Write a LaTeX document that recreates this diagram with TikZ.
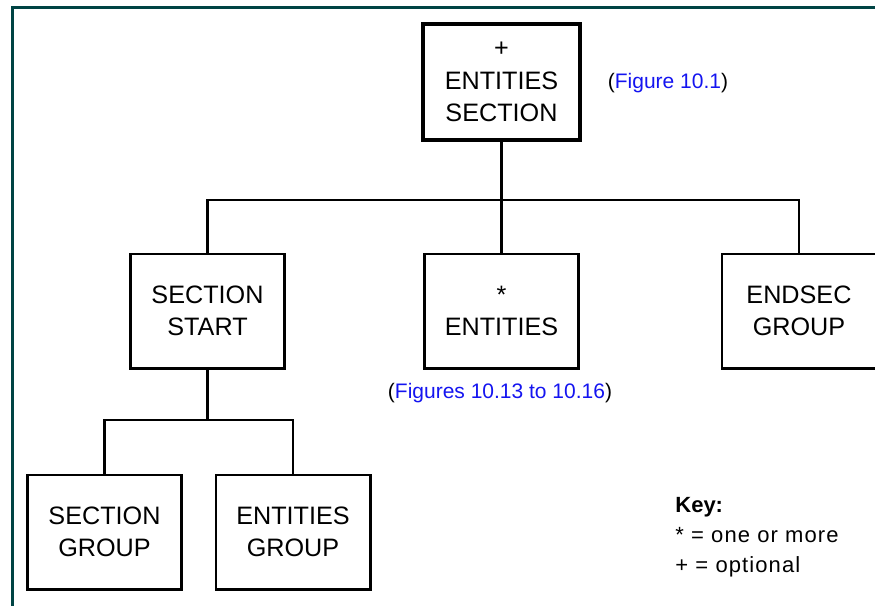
\documentclass[tikz,border=0pt]{standalone}
\usepackage{fontspec}
\setmainfont{Liberation Sans}
\usepackage{xcolor}
\definecolor{framegreen}{HTML}{004444}
\definecolor{refblue}{HTML}{1414F0}
\tikzset{
	box/.style={draw, line width=1.3pt, minimum width=77.2pt, minimum height=57.2pt,
		inner sep=0pt, align=center, font=\fontsize{12.6}{16.3}\selectfont},
	topbox/.style={box, line width=2pt, minimum width=78.5pt, minimum height=58pt},
	link/.style={line width=1.3pt},
	figref/.style={inner sep=0pt, font=\fontsize{10.5}{12}\selectfont}
}

\begin{document}
\begin{tikzpicture}[x=0.5pt, y=-0.5pt]
	\useasboundingbox (0,0) rectangle (875,606);
	% frame
	\draw[framegreen, line width=1.5pt] (12.5,606) -- (12.5,7.5) -- (875,7.5);
	
	% boxes
	\node[topbox] (entsec) at (501.5,82) {+\\ENTITIES\\SECTION};
	\node[box] (secstart) at (207.5,311) {SECTION\\START};
	\node[box] (ents) at (501.5,311) {*\\ENTITIES};
	\node[box] (endsec) at (799,311) {ENDSEC\\GROUP};
	\node[box] (secgroup) at (104.5,532) {SECTION\\GROUP};
	\node[box] (entgroup) at (293,532) {ENTITIES\\GROUP};
	
	% tree lines
	\coordinate (bar1) at (501.5,200);
	\coordinate (bar2) at (207.5,420);
	\draw[link] (entsec.south) -- (bar1);
	\draw[link] (secstart.north) |- (bar1) -| (endsec.north);
	\draw[link] (ents.north) -- (ents.north|-bar1);
	\draw[link] (secstart.south) -- (bar2);
	\draw[link] (secgroup.north) |- (bar2) -| (entgroup.north);
	
	% references
	\node[figref] (ref1) at (668,83) {(\textcolor{refblue}{Figure 10.1})};
	\node[figref] (ref2) at (500,393) {(\textcolor{refblue}{Figures 10.13 to 10.16})};
	
	% key
	\node[anchor=north west, inner sep=0pt, align=left,
		font=\fontsize{11}{15}\selectfont] (key) at (675,497)
		{\textbf{Key:}\\{\addfontfeature{LetterSpace=5}* = one or more}\\
		{\addfontfeature{LetterSpace=5}+ = optional}};
\end{tikzpicture}
\end{document}
